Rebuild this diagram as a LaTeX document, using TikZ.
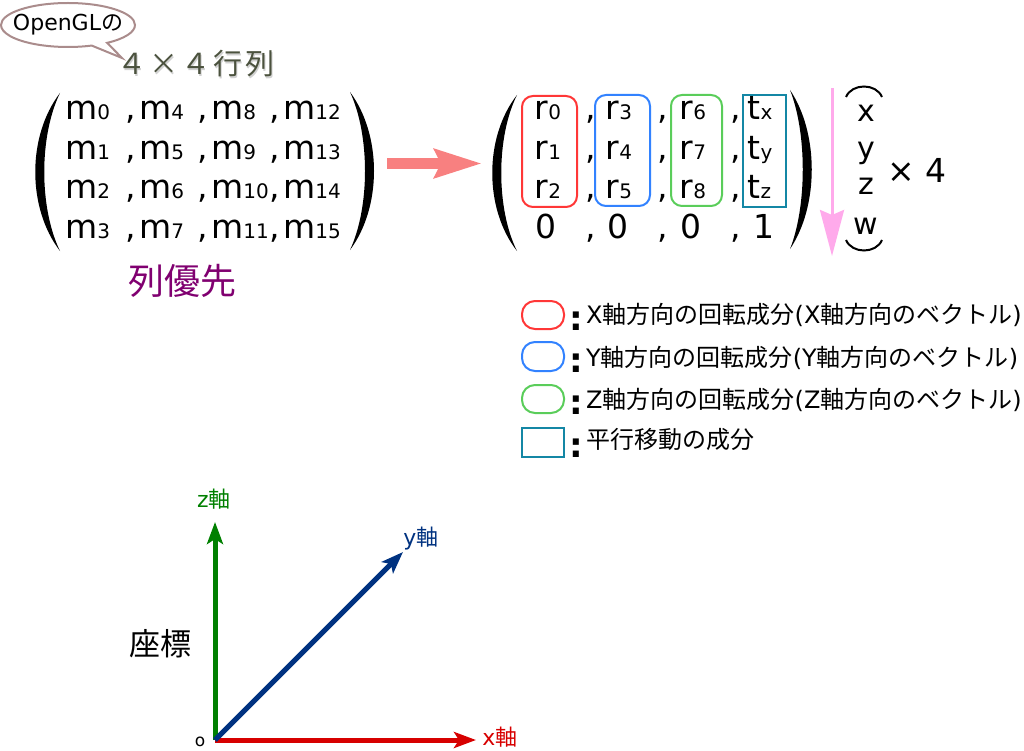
\documentclass[tikz,border=0pt]{standalone}
\usepackage{fontspec}
\setmainfont{DejaVu Sans}
\newfontfamily\jp{Noto Sans CJK JP}
\usetikzlibrary{arrows.meta,shapes.callouts}
\newcommand{\fs}[1]{\fontsize{#1}{#1}\selectfont}
\newcommand{\sm}[1]{{\fs{20}#1}}
\newcommand{\gridchar}[1]{\makebox[32pt]{#1}}

\definecolor{bubbleline}{RGB}{170,140,140}
\definecolor{titlegray}{RGB}{75,82,62}
\definecolor{colpurple}{RGB}{128,0,112}
\definecolor{arrowpink}{RGB}{248,128,128}
\definecolor{downpink}{RGB}{255,170,235}
\definecolor{rotx}{RGB}{255,55,55}
\definecolor{roty}{RGB}{50,130,255}
\definecolor{rotz}{RGB}{90,205,90}
\definecolor{trans}{RGB}{20,135,165}
\definecolor{axisx}{RGB}{215,0,0}
\definecolor{axisy}{RGB}{0,50,128}
\definecolor{axisz}{RGB}{0,128,0}

\begin{document}
\begin{tikzpicture}[x=1pt, y=-1pt,
    cell/.style={anchor=base west, inner sep=0pt, font=\fs{33}},
    rotbox/.style={draw, line width=2pt, rounded corners=11pt},
    legend/.style={anchor=base west, inner sep=0pt, font=\fs{24}},
    colon/.style={anchor=base west, inner sep=0pt, font=\fs{34}\bfseries},
    axislabel/.style={inner sep=0pt, font=\fs{22}},
    axis/.style={line width=5pt, -{Stealth[length=22pt,width=16pt,inset=5pt]}}]
    \useasboundingbox (0,0) rectangle (1024,751);

    % Bubble and title
    \node[ellipse callout, draw=bubbleline, line width=2pt, minimum width=134pt, minimum height=44pt,
          callout absolute pointer={(122,58)}] (bubble) at (68,25) {};
    \node[font=\fs{22}] (bubbletext) at (bubble.center) {OpenGL{\jp の}};
    \node[anchor=base west, inner sep=0pt, font=\jp\fs{29}, text=black!18] (title-shadow) at (117,76.5)
        {\gridchar{４}\gridchar{×}\gridchar{４}\gridchar{行}\gridchar{列}};
    \node[anchor=base west, inner sep=0pt, font=\jp\fs{29}, text=titlegray] (title) at (115.5,75)
        {\gridchar{４}\gridchar{×}\gridchar{４}\gridchar{行}\gridchar{列}};

    % Left matrix
    \fill (60,93) .. controls (27,136) and (27,208) .. (60,251) .. controls (39,208) and (39,136) .. cycle;
    \fill (350,92) .. controls (382,135) and (382,207) .. (350,250) .. controls (370,207) and (370,135) .. cycle;

    % First row
    \node[cell] (m0) at (65,120) {m\sm{0}};
    \node[cell] (m4) at (125.5,120) {,\hspace{3pt}m\sm{4}};
    \node[cell] (m8) at (197.5,120) {,\hspace{3pt}m\sm{8}};
    \node[cell] (m12) at (269.5,120) {,\hspace{3pt}m\sm{12}};

    \node[cell] (m1) at (65,160) {m\sm{1}};
    \node[cell] (m5) at (125.5,160) {,\hspace{3pt}m\sm{5}};
    \node[cell] (m9) at (197.5,160) {,\hspace{3pt}m\sm{9}};
    \node[cell] (m13) at (269.5,160) {,\hspace{3pt}m\sm{13}};

    \node[cell] (m2) at (65,199) {m\sm{2}};
    \node[cell] (m6) at (125.5,199) {,\hspace{3pt}m\sm{6}};
    \node[cell] (m10) at (197.5,199) {,\hspace{3pt}m\sm{10}};
    \node[cell] (m14) at (269.5,199) {,\hspace{3pt}m\sm{14}};

    \node[cell] (m3) at (65,238) {m\sm{3}};
    \node[cell] (m7) at (125.5,238) {,\hspace{3pt}m\sm{7}};
    \node[cell] (m11) at (197.5,238) {,\hspace{3pt}m\sm{11}};
    \node[cell] (m15) at (269.5,238) {,\hspace{3pt}m\sm{15}};

    \node[font=\jp\fs{36}, text=colpurple] (colmajor) at (182,281) {列優先};

    % Arrow between the matrices
    \coordinate (arrowstart) at (387,163.5);
    \coordinate (arrowend) at (482,163.5);
    \draw[arrowpink, line width=11pt, -{Stealth[length=47pt,width=28pt,inset=6pt]}] (arrowstart) -- (arrowend);

    % Right matrix
    \fill (517,95) .. controls (484,137) and (484,209) .. (517,251) .. controls (496,209) and (496,137) .. cycle;
    \fill (790,90) .. controls (819,133) and (819,206) .. (790,249) .. controls (807,206) and (807,133) .. cycle;

    \node[cell] (r0) at (534.5,120) {r\sm{0}};
    \node[cell] (r3) at (585.5,120) {,\hspace{9.5pt}r\sm{3}};
    \node[cell] (r6) at (657.5,120) {,\hspace{11.5pt}r\sm{6}};
    \node[cell] (tx) at (730.5,120) {,\hspace{6.5pt}t\sm{x}};

    \node[cell] (r1) at (534.5,160) {r\sm{1}};
    \node[cell] (r4) at (585.5,160) {,\hspace{9.5pt}r\sm{4}};
    \node[cell] (r7) at (657.5,160) {,\hspace{11.5pt}r\sm{7}};
    \node[cell] (ty) at (730.5,160) {,\hspace{6.5pt}t\sm{y}};

    \node[cell] (r2) at (534.5,199) {r\sm{2}};
    \node[cell] (r5) at (585.5,199) {,\hspace{9.5pt}r\sm{5}};
    \node[cell] (r8) at (657.5,199) {,\hspace{11.5pt}r\sm{8}};
    \node[cell] (tz) at (730.5,199) {,\hspace{6.5pt}t\sm{z}};

    \node[cell] (z1) at (535.5,238) {0};
    \node[cell] (z2) at (585.5,238) {,\hspace{11.5pt}0};
    \node[cell] (z3) at (657.5,238) {,\hspace{12.5pt}0};
    \node[cell] (one) at (730.5,238) {,\hspace{12pt}1};

    \draw[rotbox, rotx] (522,96) rectangle (577,207);
    \draw[rotbox, roty] (595,95) rectangle (650,206);
    \draw[rotbox, rotz] (671,95) rectangle (722,206);
    \draw[rotbox, trans, rounded corners=0pt] (743,95) rectangle (786,207);

    % xyzw
    \coordinate (downstart) at (832,88);
    \coordinate (downend) at (832,256);
    \draw[downpink, line width=3pt, -{Stealth[length=46pt,width=24pt,inset=5pt]}] (downstart) -- (downend);
    \draw[line width=2pt] (846,97) .. controls (852,83) and (876,83) .. (882,97);
    \draw[line width=2pt] (846,240) .. controls (852,254) and (876,254) .. (882,240);
    \node[anchor=base, font=\fs{30}] (vx) at (866,122) {x};
    \node[anchor=base, font=\fs{30}] (vy) at (866,159) {y};
    \node[anchor=base, font=\fs{30}] (vz) at (866,195) {z};
    \node[anchor=base, font=\fs{30}] (vw) at (866,235) {w};
    \node[anchor=base west, inner sep=0pt, font=\fs{33}] (times) at (887,183) {× 4};

    % Legend
    \draw[rotbox, rotx, rounded corners=13pt] (522,301) rectangle (564,329);
    \draw[rotbox, roty, rounded corners=13pt] (522,342) rectangle (564,371);
    \draw[rotbox, rotz, rounded corners=13pt] (522,385) rectangle (564,413);
    \draw[rotbox, trans, rounded corners=0pt] (522,428) rectangle (564,457);
    \node[colon] (c1) at (569.5,330) {:};
    \node[colon] (c2) at (569.5,372) {:};
    \node[colon] (c3) at (569.5,414) {:};
    \node[colon] (c4) at (569.5,457) {:};
    \node[legend] (lx) at (586,323) {X{\jp 軸方向の回転成分}(X{\jp 軸方向のベクトル})};
    \node[legend] (ly) at (586,366) {Y{\jp 軸方向の回転成分}(Y{\jp 軸方向のベクトル})};
    \node[legend] (lz) at (586,408) {Z{\jp 軸方向の回転成分}(Z{\jp 軸方向のベクトル})};
    \node[legend] (lt) at (586,448) {\jp 平行移動の成分};

    % Axes
    \coordinate (o) at (215,740);
    \coordinate (ztip) at (215,522);
    \coordinate (ytip) at (403,552);
    \coordinate (xtip) at (476,740);
    \draw[axis, axisz] (o) -- (ztip);
    \draw[axis, axisx] (o) -- (xtip);
    \draw[axis, axisy] (o) -- (ytip);
    \node[axislabel, text=axisz] (zlabel) at (214,499) {z{\jp 軸}};
    \node[axislabel, text=axisy] (ylabel) at (421,539) {y{\jp 軸}};
    \node[axislabel, text=axisx] (xlabel) at (500,737) {x{\jp 軸}};
    \node[font=\fs{17}, inner sep=0pt] (olabel) at (200,742) {o};
    \node[font=\jp\fs{31}] (coords) at (160,644) {座標};
\end{tikzpicture}
\end{document}
